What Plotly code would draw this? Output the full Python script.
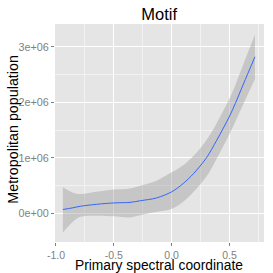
import plotly.graph_objects as go

# Smoothed fit (loess-like) and its confidence band
x_vals = [-0.94, -0.86, -0.79, -0.65, -0.50, -0.36, -0.27, -0.13, 0.00, 0.10, 0.19, 0.30, 0.39, 0.50, 0.55, 0.62, 0.72]
fit_vals = [0.072e6, 0.10e6, 0.13e6, 0.165e6, 0.19e6, 0.20e6, 0.23e6, 0.28e6, 0.39e6, 0.54e6, 0.72e6, 1.00e6, 1.32e6, 1.75e6, 1.98e6, 2.33e6, 2.82e6]
upper_vals = [0.47e6, 0.38e6, 0.35e6, 0.39e6, 0.43e6, 0.45e6, 0.50e6, 0.59e6, 0.74e6, 0.87e6, 1.04e6, 1.32e6, 1.63e6, 2.07e6, 2.31e6, 2.69e6, 3.22e6]
lower_vals = [-0.34e6, -0.16e6, -0.06e6, -0.04e6, -0.05e6, -0.07e6, -0.03e6, 0.03e6, 0.08e6, 0.21e6, 0.39e6, 0.66e6, 0.99e6, 1.43e6, 1.65e6, 1.97e6, 2.42e6]

x_ticks = [-1.0, -0.5, 0.0, 0.5]
x_tick_labels = ["-1.0", "-0.5", "0.0", "0.5"]
y_ticks = [0, 1e6, 2e6, 3e6]
y_tick_labels = ["0e+00", "1e+06", "2e+06", "3e+06"]
x_title = "Primary spectral coordinate"
y_title = "Metropolitan population"
chart_title = "Motif"

FONT = "Liberation Sans, Arial, sans-serif"
SPL = dict(shape="spline", smoothing=0.9)

fig = go.Figure()
fig.add_trace(go.Scatter(x=x_vals, y=lower_vals, mode="lines",
                         line=dict(width=0, **SPL),
                         hoverinfo="skip", showlegend=False))
fig.add_trace(go.Scatter(x=x_vals, y=upper_vals, mode="lines", fill="tonexty",
                         fillcolor="rgba(153,153,153,0.4)",
                         line=dict(width=0, **SPL),
                         hoverinfo="skip", showlegend=False))
fig.add_trace(go.Scatter(x=x_vals, y=fit_vals, mode="lines",
                         line=dict(color="#3366FF", width=1, **SPL),
                         hoverinfo="skip", showlegend=False))

fig.update_layout(
    width=273, height=273,
    margin=dict(l=54.5, r=8.7, t=24.3, b=31.3, autoexpand=False),
    paper_bgcolor="white",
    plot_bgcolor="#E5E5E5",
    font=dict(family=FONT),
    hovermode=False,
    title=dict(text=chart_title, x=0.583, xanchor="center", y=1 - 14 / 273, yanchor="middle",
               yref="container", font=dict(size=16.5, color="black", family=FONT)),
)
fig.update_xaxes(
    range=[-1.008, 0.798], tickvals=x_ticks, ticktext=x_tick_labels,
    showgrid=True, gridcolor="white", gridwidth=1.1, zeroline=False,
    minor=dict(dtick=0.25, tick0=0, showgrid=True, gridcolor="#F2F2F2", gridwidth=0.5),
    ticks="outside", ticklen=3, tickcolor="#7F7F7F", tickwidth=1,
    tickfont=dict(size=10.5, color="#7F7F7F", family=FONT),
    showline=False, automargin=False,
)
fig.update_yaxes(
    range=[-0.513e6, 3.41e6], tickvals=y_ticks, ticktext=y_tick_labels,
    showgrid=True, gridcolor="white", gridwidth=1.1, zeroline=False,
    minor=dict(dtick=0.5e6, tick0=0, showgrid=True, gridcolor="#F2F2F2", gridwidth=0.5),
    ticks="outside", ticklen=3, tickcolor="#7F7F7F", tickwidth=1,
    tickfont=dict(size=10.8, color="#7F7F7F", family=FONT),
    showline=False, automargin=False,
)

# Axis titles placed as annotations for exact positioning
fig.add_annotation(text=x_title, xref="paper", yref="paper", x=0.497, y=0,
                   xanchor="center", yanchor="middle", yshift=-23.5, showarrow=False,
                   font=dict(size=13.8, color="black", family=FONT))
fig.add_annotation(text=y_title, xref="paper", yref="paper", x=0, y=0.515,
                   xanchor="center", yanchor="middle", xshift=-42, textangle=-90, showarrow=False,
                   font=dict(size=14.3, color="black", family=FONT))

fig.write_html("out.html", config={"displayModeBar": False},
               post_script="document.body.style.margin='0';document.body.style.overflow='hidden';")
